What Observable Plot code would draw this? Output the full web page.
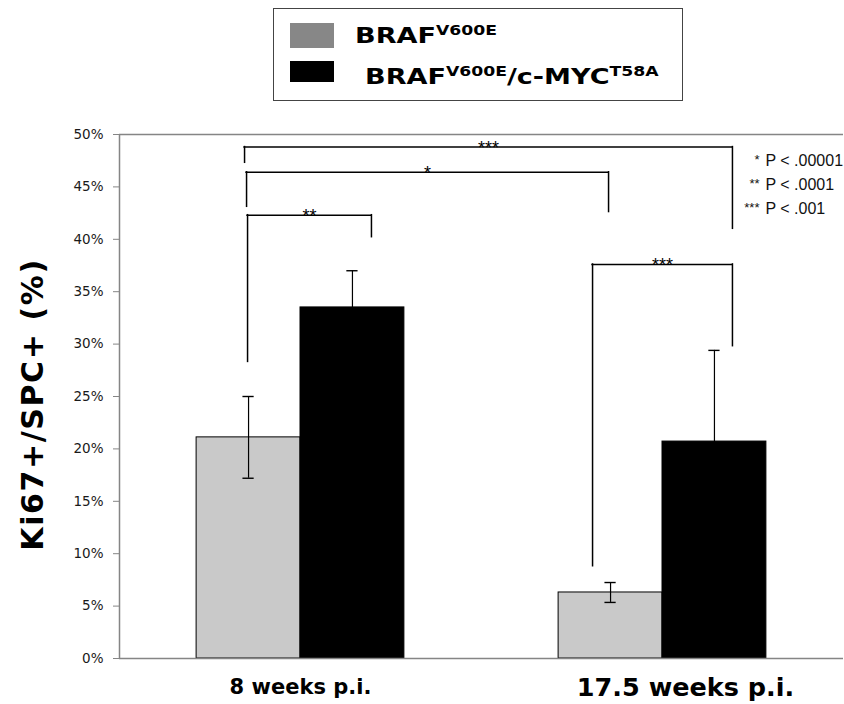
<!DOCTYPE html>
<html>
<head>
<meta charset="utf-8">
<script src="https://cdn.jsdelivr.net/npm/d3@7"></script>
<script src="https://cdn.jsdelivr.net/npm/@observablehq/plot@0.6"></script>
<style>
html, body { margin: 0; padding: 0; background: #fff; overflow: hidden; }
#legend { position: relative; width: 844px; height: 110px; }
#legend .box { position: absolute; left: 273px; top: 8px; width: 408px; height: 91px; border: 1px solid #444; }
#legend .sw { position: absolute; left: 290px; width: 44px; }
#legend .lt { position: absolute; font-family: "DejaVu Sans"; font-weight: bold; font-size: 22px; line-height: 22px;
  white-space: pre; transform: scaleX(1.23); transform-origin: 0 0; color: #000; }
#legend .lt span.sup { font-size: 14px; position: relative; top: -8px; }
</style>
</head>
<body>
<div id="legend"></div>
<div id="chart"></div>
<script>
// ---------- data ----------
const groups = ["8 weeks p.i.", "17.5 weeks p.i."];
const seriesNames = ["BRAF^V600E", "BRAF^V600E/c-MYC^T58A"];
const brafMean = [21.1, 6.3];
const brafErr = [3.9, 0.95];
const mycMean = [33.5, 20.7];
const mycErr = [3.5, 8.7];
const yTicks = [0, 5, 10, 15, 20, 25, 30, 35, 40, 45, 50];

// significance brackets (bar index: 0 = 8wk BRAF, 1 = 8wk MYC, 2 = 17.5wk BRAF, 3 = 17.5wk MYC)
const bracketLabels = ["***", "*", "**", "***"];
const bracketLeftBar = [0, 0, 0, 2];
const bracketRightBar = [3, 2, 1, 3];
const bracketLevel = [48.8, 46.4, 42.3, 37.6];
const bracketLeftEnd = [47.3, 43.1, 28.3, 8.8];
const bracketRightEnd = [41.0, 42.6, 40.2, 29.8];

const pStars = ["*", "**", "***"];
const pTexts = ["P < .00001", "P < .0001", "P < .001"];

// ---------- legend ----------
const seriesColors = ["#c9c9c9", "#000000"];
const swatchColors = ["#878787", "#000000"];
const legend = document.getElementById("legend");
const box = document.createElement("div"); box.className = "box"; legend.appendChild(box);
const swTop = [23, 61], swH = [25, 21];
const ltLeft = [355, 365], ltTop = [24.7, 65.7];
seriesNames.forEach((name, i) => {
  const sw = document.createElement("div");
  sw.className = "sw"; sw.style.top = swTop[i] + "px"; sw.style.height = swH[i] + "px"; sw.style.background = swatchColors[i];
  legend.appendChild(sw);
  const lt = document.createElement("div");
  lt.className = "lt"; lt.style.left = ltLeft[i] + "px"; lt.style.top = ltTop[i] + "px";
  name.split(/\^([A-Z0-9]+)/).forEach((part, k) => {
    const s = document.createElement("span");
    if (k % 2 === 1) s.className = "sup";
    s.textContent = part;
    lt.appendChild(s);
  });
  legend.appendChild(lt);
});

// ---------- chart ----------
const bw = 0.287;          // bar width (band units)
const cap = 0.0155;        // error-bar cap half width
const pxPerUnit = 362;
const bars = [];
groups.forEach((g, i) => {
  const c = i + 0.5;
  bars.push({g, s: 0, x1: c - bw, x2: c, v: brafMean[i], e: brafErr[i]});
  bars.push({g, s: 1, x1: c, x2: c + bw, v: mycMean[i], e: mycErr[i]});
});
const center = b => (b.x1 + b.x2) / 2;
const nudgeL = [-4, -2, -1, -18], nudgeR = [18, -2, 19, 18];
const brackets = bracketLabels.map((label, i) => ({
  label,
  xl: center(bars[bracketLeftBar[i]]) + nudgeL[i] / pxPerUnit,
  xr: center(bars[bracketRightBar[i]]) + nudgeR[i] / pxPerUnit,
  y: bracketLevel[i], yl: bracketLeftEnd[i], yr: bracketRightEnd[i]
}));

const axisGray = "#858585";
const lineStyle = {stroke: "#000", strokeWidth: 1.5, strokeLinecap: "square"};
const xLabelStyle = [
  {dx: 0, dy: 35, fontSize: 21},
  {dx: 23, dy: 37, fontSize: 25.5}
];

const chart = Plot.plot({
  width: 844, height: 594,
  marginLeft: 119, marginRight: 1, marginTop: 24, marginBottom: 46,
  x: {domain: [0, 2], axis: null},
  y: {domain: [0, 50], axis: null},
  style: {fontFamily: "DejaVu Sans", background: "#fff", color: "#000"},
  marks: [
    Plot.rectY(bars.filter(d => d.s === 0), {x1: "x1", x2: "x2", y1: 0, y2: "v", fill: seriesColors[0], stroke: "#000", strokeWidth: 1}),
    Plot.rectY(bars.filter(d => d.s === 1), {x1: "x1", x2: "x2", y1: 0, y2: "v", fill: seriesColors[1], stroke: "#000", strokeWidth: 1}),
    // error bars
    Plot.ruleX(bars, {x: center, y1: d => d.v - d.e, y2: d => d.v + d.e, stroke: "#000", strokeWidth: 1.2}),
    Plot.ruleY(bars, {y: d => d.v + d.e, x1: d => center(d) - cap, x2: d => center(d) + cap, stroke: "#000", strokeWidth: 1.4}),
    Plot.ruleY(bars.filter(d => d.s === 0), {y: d => d.v - d.e, x1: d => center(d) - cap, x2: d => center(d) + cap, stroke: "#000", strokeWidth: 1.4}),
    // frame lines
    Plot.ruleY([0], {stroke: axisGray, strokeWidth: 1.5}),
    Plot.ruleY([50], {stroke: axisGray, strokeWidth: 1.5}),
    Plot.ruleX([0], {stroke: axisGray, strokeWidth: 1.5}),
    Plot.axisY({ticks: yTicks, tickSize: 6, tickPadding: 10, tickFormat: d => d + "%",
      stroke: axisGray, color: "#1a1a1a", fontSize: 13.5, anchor: "left"}),
    // significance brackets
    Plot.ruleY(brackets, {y: "y", x1: "xl", x2: "xr", ...lineStyle}),
    Plot.ruleX(brackets, {x: "xl", y1: "y", y2: "yl", ...lineStyle}),
    Plot.ruleX(brackets, {x: "xr", y1: "y", y2: "yr", ...lineStyle}),
    Plot.text(brackets, {x: d => (d.xl + d.xr) / 2, y: "y", text: "label", lineAnchor: "bottom", dy: 7,
      fontSize: 18, fontFamily: "Liberation Sans", fill: "#000"}),
    // p-value key
    ...pTexts.map((t, i) => Plot.text([t], {frameAnchor: "top-right", textAnchor: "start", lineAnchor: "bottom",
      dx: -78, dy: 31 + i * 24.2, fontSize: 16, fontFamily: "Liberation Sans", fill: "#111"})),
    ...pStars.map((t, i) => Plot.text([t], {frameAnchor: "top-right", textAnchor: "end", lineAnchor: "bottom",
      dx: -84, dy: 29 + i * 24.2, fontSize: 13, fontFamily: "Liberation Sans", fill: "#111"})),
    // x category labels
    ...groups.map((g, i) => Plot.text([g], {x: () => i + 0.5, frameAnchor: "bottom", lineAnchor: "bottom",
      textAnchor: "middle", fontWeight: "bold", fill: "#000", ...xLabelStyle[i]})),
    // y title
    Plot.text(["Ki67+/SPC+ (%)"], {frameAnchor: "left", rotate: -90, dx: -86, dy: 8, fontSize: 30,
      fontWeight: "bold", textAnchor: "middle", lineAnchor: "middle", fill: "#000"})
  ]
});
chart.querySelectorAll("text").forEach(t => {
  if (t.textContent === "Ki67+/SPC+ (%)") t.setAttribute("letter-spacing", "1.6");
});
document.getElementById("chart").appendChild(chart);
</script>
</body>
</html>
